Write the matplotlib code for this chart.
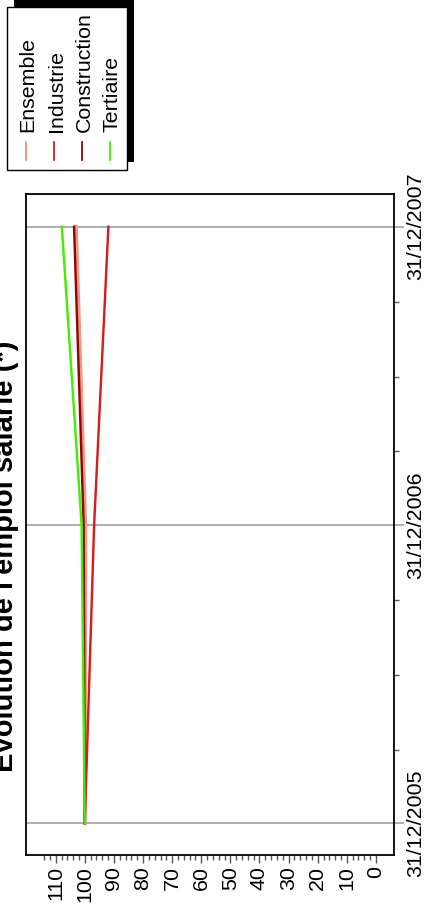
import numpy as np
import matplotlib.pyplot as plt
import matplotlib.dates as mdates
from matplotlib.patches import Rectangle
from matplotlib.lines import Line2D

plt.rcParams['font.family'] = ['Liberation Sans', 'DejaVu Sans']

# data
dates = np.array(['2005-12-31', '2006-12-31', '2007-12-31'], dtype='datetime64[D]')
quarter_ticks = np.array(['2006-03-31', '2006-06-30', '2006-09-30',
                          '2007-03-31', '2007-06-30', '2007-09-30'], dtype='datetime64[D]')

series_names = ['Ensemble', 'Industrie', 'Construction', 'Tertiaire']
ensemble = [100, 99.8, 103.0]
industrie = [100, 96.8, 91.9]
construction = [100, 100.4, 103.7]
tertiaire = [100, 101.1, 107.9]
series_colors = ['#F39580', '#D41E1E', '#8B0808', '#44EE00']

value_major = np.arange(0, 111, 10)
value_minor = np.arange(0, 115, 2)

W, H = 424, 906


def fx(px):
    return px / W


def fy(py):
    return 1 - py / H


fig = plt.figure(figsize=(W / 100, H / 100), dpi=100)
ax = fig.add_axes([fx(26), 51 / H, 368 / W, 661 / H])

widths = [3.6, 2.4, 2.4, 2.4]
for vals, c, lw in zip([ensemble, industrie, construction, tertiaire], series_colors, widths):
    ax.plot(vals, dates, color=c, lw=lw * 0.72)

ax.set_xlim(120.2, -6.2)
ax.set_ylim(dates[0] - np.timedelta64(39, 'D'), dates[-1] + np.timedelta64(40, 'D'))

# value axis (bottom)
ax.set_xticks(value_major)
ax.set_xticks(value_minor, minor=True)
ax.set_xticklabels([str(v) for v in value_major], rotation=90)
ax.tick_params(axis='x', which='major', length=5.8, width=1, color='#555555',
               pad=2.2, labelsize=15.4)
ax.tick_params(axis='x', which='minor', length=3.4, width=1, color='#555555')

# date axis (right)
ax.yaxis.tick_right()
ax.set_yticks(dates)
ax.set_yticks(quarter_ticks, minor=True)
ax.yaxis.set_major_formatter(mdates.DateFormatter('%d/%m/%Y'))
ax.tick_params(axis='y', which='major', length=7.2, width=1.1, color='#999999',
               pad=1.8, labelsize=15.4)
ax.tick_params(axis='y', which='minor', length=3.6, width=1, color='#555555')
plt.setp(ax.get_yticklabels(), rotation=90, va='center')

ax.set_axisbelow(True)
ax.grid(axis='y', which='major', color='#999999', lw=1.1)
for sp in ax.spines.values():
    sp.set_linewidth(1.3)

fig.text(fx(19), fy(556.5), "Évolution de l'emploi salarié (*)", rotation=90,
         ha='right', va='center', fontsize=21, fontweight='bold')

# legend box with shadow
fig.add_artist(Rectangle((fx(14), fy(162)), 120 / W, 163 / H, transform=fig.transFigure,
                         facecolor='black', edgecolor='none'))
fig.add_artist(Rectangle((fx(7), fy(170)), 120 / W, 163 / H, transform=fig.transFigure,
                         facecolor='white', edgecolor='black', lw=1))
for i, (name, c) in enumerate(zip(series_names, series_colors)):
    base = 33 + i * 28
    fig.text(fx(base + 4.5), fy(132), name, rotation=90, ha='right', va='bottom',
             fontsize=15.4)
    fig.add_artist(Line2D([fx(base - 7), fx(base - 7)], [fy(142), fy(160)],
                          transform=fig.transFigure, color=c, lw=1.3))

fig.savefig('out.png', dpi=100)
